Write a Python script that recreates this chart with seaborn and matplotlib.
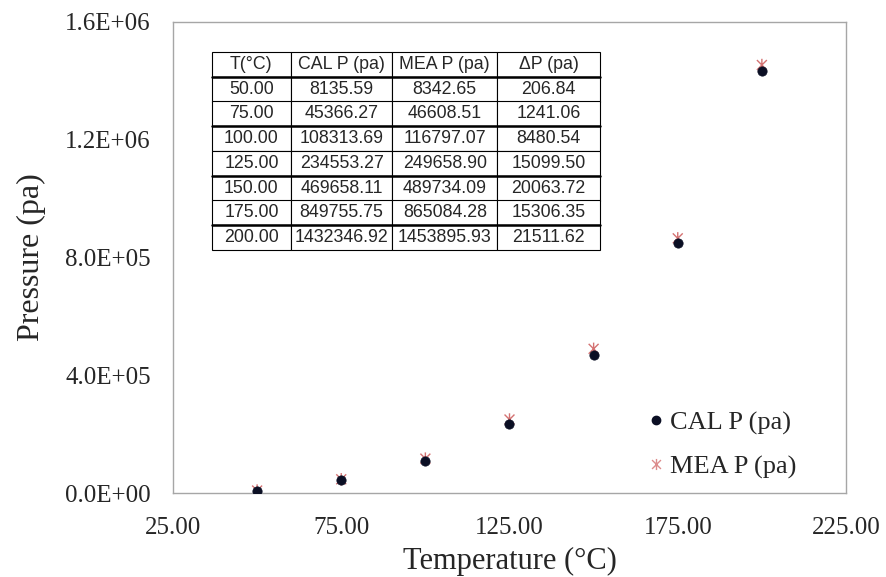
import numpy as np
import pandas as pd
import matplotlib
matplotlib.use("Agg")
import matplotlib.pyplot as plt
from matplotlib.path import Path
from matplotlib.lines import Line2D
from matplotlib.ticker import FixedLocator, FuncFormatter
import seaborn as sns

# ---- data ----
temps = [50.00, 75.00, 100.00, 125.00, 150.00, 175.00, 200.00]
cal_p = [8135.59, 45366.27, 108313.69, 234553.27, 469658.11, 849755.75, 1432346.92]
mea_p = [8342.65, 46608.51, 116797.07, 249658.90, 489734.09, 865084.28, 1453895.93]
delta_p = [206.84, 1241.06, 8480.54, 15099.50, 20063.72, 15306.35, 21511.62]
table_header = ["T(°C)", "CAL P (pa)", "MEA P (pa)", "ΔP (pa)"]
x_ticks = [25, 75, 125, 175, 225]
y_ticks = [0, 400000, 800000, 1200000, 1600000]

df = pd.DataFrame({"T": temps, "CAL": cal_p, "MEA": mea_p})

sns.set_style("white")
plt.rcParams['font.family'] = ['Liberation Serif', 'DejaVu Serif']

fig = plt.figure(figsize=(8.87, 5.77), dpi=100)
ax = fig.add_axes([173/887, 1-493/577, (846-173)/887, (493-22)/577])

# asterisk marker: vertical line + X
ast = Path([(0, -1), (0, 1), (-0.8, -0.8), (0.8, 0.8), (-0.8, 0.8), (0.8, -0.8)],
           [Path.MOVETO, Path.LINETO, Path.MOVETO, Path.LINETO, Path.MOVETO, Path.LINETO])

cal_color = "#0b0f24"
mea_color = "#d47272"

sns.scatterplot(data=df, x="T", y="MEA", marker=ast, s=80, facecolor="none",
                edgecolor=mea_color, linewidth=1.0, ax=ax, zorder=3)
sns.scatterplot(data=df, x="T", y="CAL", marker="o", s=45, color=cal_color,
                edgecolor=cal_color, linewidth=0.5, ax=ax, zorder=4)

ax.set_xlim(25, 225)
ax.set_ylim(0, 1600000)
ax.xaxis.set_major_locator(FixedLocator(x_ticks))
ax.yaxis.set_major_locator(FixedLocator(y_ticks))
ax.xaxis.set_major_formatter(FuncFormatter(lambda v, p: f"{v:.2f}"))
ax.yaxis.set_major_formatter(FuncFormatter(lambda v, p: f"{v:.1E}"))
ax.tick_params(axis="both", which="major", direction="out", length=5, width=1,
               color="#a6a6a6", labelsize=18, pad=11)
ax.tick_params(axis="x", pad=12)
for s in ax.spines.values():
    s.set_color("#a6a6a6")
    s.set_linewidth(1)
ax.grid(False)

ax.set_xlabel("Temperature (°C)", fontsize=22, labelpad=6)
ax.set_ylabel("Pressure (pa)", fontsize=23, labelpad=14)

# legend
handles = [
    Line2D([], [], linestyle="none", marker="o", markersize=6, color=cal_color),
    Line2D([], [], linestyle="none", marker=ast, markersize=8, color="#dc8c8c",
           markeredgewidth=1.0),
]
ax.legend(handles, ["CAL P (pa)", "MEA P (pa)"], loc="lower right",
          bbox_to_anchor=(0.962, -0.02), frameon=False, fontsize=19,
          handlelength=0.5, handletextpad=0.3, labelspacing=0.75)

# table
cell_text = [[f"{t:.2f}", f"{c:.2f}", f"{m:.2f}", f"{d:.2f}"]
             for t, c, m, d in zip(temps, cal_p, mea_p, delta_p)]
x0 = (212-173)/673
x1 = (600-173)/673
y0 = (493-250)/471
y1 = (493-52)/471
tbl = ax.table(cellText=cell_text, colLabels=table_header, cellLoc="center",
               colWidths=[0.203, 0.262, 0.270, 0.265],
               bbox=[x0, y0, x1-x0, y1-y0])
tbl.auto_set_font_size(False)
for (r, c), cell in tbl.get_celld().items():
    cell.set_linewidth(0.8)
    cell.set_edgecolor("black")
    cell.PAD = 0.02
    cell.get_text().set_fontsize(12.8)
    cell.get_text().set_fontfamily(["Liberation Sans", "DejaVu Sans"])
# thicker separators
row_h = (y1 - y0) / 8
for k in [1, 3, 5, 7]:
    yy = y1 - k * row_h
    ax.plot([x0, x1], [yy, yy], transform=ax.transAxes, color="black",
            linewidth=1.8, zorder=10, clip_on=False)

fig.savefig("out.png", dpi=100)
